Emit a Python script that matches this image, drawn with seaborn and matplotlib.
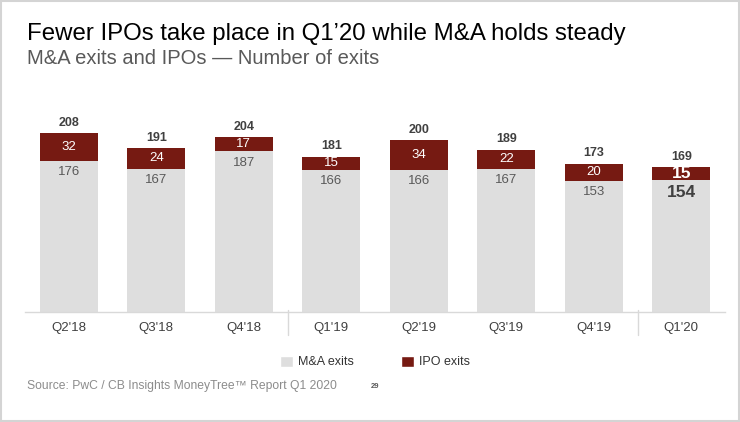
import numpy as np
import pandas as pd
import matplotlib.pyplot as plt
import matplotlib.transforms as mtransforms
from matplotlib.patches import Patch, Rectangle
import seaborn as sns

quarters = ["Q2'18", "Q3'18", "Q4'18", "Q1'19", "Q2'19", "Q3'19", "Q4'19", "Q1'20"]
ma_exits = [176, 167, 187, 166, 166, 167, 153, 154]
ipo_exits = [32, 24, 17, 15, 34, 22, 20, 15]

MA_COLOR = '#dedede'
IPO_COLOR = '#761a12'

df = pd.DataFrame({'quarter': quarters, 'ma': ma_exits, 'ipo': ipo_exits})
df['total'] = df['ma'] + df['ipo']

sns.set_style('white')
plt.rcParams['font.family'] = ['Liberation Sans', 'DejaVu Sans']

fig = plt.figure(figsize=(7.4, 4.22), dpi=100)
ax = fig.add_axes([25 / 740, 1 - 312 / 422, 700 / 740, 206 / 422])

# stacked bars: total in red, M&A drawn over it
sns.barplot(data=df, x='quarter', y='total', color=IPO_COLOR, width=0.66,
            saturation=1, linewidth=0, ax=ax)
sns.barplot(data=df, x='quarter', y='ma', color=MA_COLOR, width=0.66,
            saturation=1, linewidth=0, ax=ax)

ax.set_xlim(-0.5, len(quarters) - 0.5)
ax.set_ylim(0, 240)
ax.set_xlabel('')
ax.set_ylabel('')
ax.set_yticks([])
for s in ['top', 'right', 'left']:
    ax.spines[s].set_visible(False)
ax.spines['bottom'].set_color('#d9d9d9')
ax.spines['bottom'].set_linewidth(1)
ax.tick_params(axis='x', length=0, pad=7, labelsize=9.5, labelcolor='#404040')
ax.set_xticks(np.arange(-0.5, len(quarters)), minor=True)
ax.tick_params(axis='x', which='minor', direction='in', length=3,
               color='#d9d9d9', width=1)

# year separators
trans = mtransforms.blended_transform_factory(ax.transData, ax.transAxes)
for xs in [2.5, 6.5]:
    ax.plot([xs, xs], [-0.11, 0.01], transform=trans, color='#d9d9d9',
            lw=1, clip_on=False)

for i, row in df.iterrows():
    last = i == len(df) - 1
    ax.text(i, row['total'] + 5, str(row['total']), ha='center', va='bottom',
            fontsize=9, fontweight='bold', color='#404040')
    ax.text(i, row['ma'] + row['ipo'] / 2, str(row['ipo']), ha='center',
            va='center', color='white',
            fontsize=12.5 if last else 9.5, fontweight='bold' if last else 'normal')
    ax.text(i, row['ma'] - 6, str(row['ma']), ha='center', va='top',
            color='#404040' if last else '#595959',
            fontsize=12.5 if last else 9.5, fontweight='bold' if last else 'normal')

fig.text(27 / 740, 1 - 34 / 422, 'Fewer IPOs take place in Q1’20 while M&A holds steady',
         fontsize=17.3, color='#000000', va='center', ha='left')
fig.text(27 / 740, 1 - 58 / 422, 'M&A exits and IPOs — Number of exits',
         fontsize=14.5, color='#595959', va='center', ha='left')

handles = [Patch(facecolor=MA_COLOR, label='M&A exits'),
           Patch(facecolor=IPO_COLOR, label='IPO exits')]
fig.legend(handles=handles, loc='center', bbox_to_anchor=(375 / 740, 1 - 362 / 422),
           ncol=2, frameon=False, fontsize=9, handlelength=1, handleheight=1,
           handletextpad=0.4, columnspacing=3.8, labelcolor='#333333')

fig.text(27 / 740, 1 - 386 / 422, 'Source: PwC / CB Insights MoneyTree™ Report Q1 2020',
         fontsize=8.7, color='#8c8c8c', va='center', ha='left')
fig.text(375 / 740, 1 - 386 / 422, '29', fontsize=5.5, color='#595959',
         fontweight='bold', va='center', ha='center')

fig.patches.append(Rectangle((0.001, 0.002), 0.997, 0.995, transform=fig.transFigure,
                             fill=False, edgecolor='#d4d4d4', lw=1.5))

fig.savefig('out.png', dpi=100)
